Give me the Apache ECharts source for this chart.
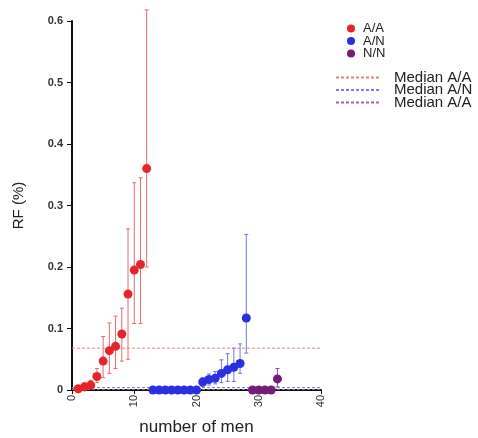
<!DOCTYPE html>
<html>
<head>
<meta charset="utf-8">
<script src="https://cdn.jsdelivr.net/npm/echarts@6/dist/echarts.min.js"></script>
<style>
  html, body { margin: 0; padding: 0; background: #fff; }
  #chart { width: 478px; height: 438px; }
</style>
</head>
<body>
<div id="chart"></div>
<script>
// A/A
const aaX = [1, 2, 3, 4, 5, 6, 7, 8, 9, 10, 11, 12]
const aaY = [0.002, 0.005, 0.008, 0.022, 0.047, 0.064, 0.071, 0.091, 0.156, 0.195, 0.204, 0.36]
const aaLow = [0, 0, 0.002, 0.012, 0.02, 0.027, 0.035, 0.047, 0.05, 0.108, 0.108, 0.2]
const aaHigh = [0.004, 0.012, 0.016, 0.035, 0.087, 0.109, 0.12, 0.133, 0.262, 0.337, 0.345, 0.618]
// A/N
const anX = [13, 14, 15, 16, 17, 18, 19, 20, 21, 22, 23, 24, 25, 26, 27, 28]
const anY = [0, 0, 0, 0, 0, 0, 0, 0, 0.013, 0.017, 0.019, 0.027, 0.033, 0.037, 0.043, 0.117]
const anLow = [0, 0, 0, 0, 0, 0, 0, 0, 0.006, 0.008, 0.01, 0.012, 0.014, 0.014, 0.027, 0.06]
const anHigh = [0, 0, 0, 0, 0, 0, 0, 0, 0.02, 0.026, 0.03, 0.049, 0.059, 0.068, 0.075, 0.253]
// N/N
const nnX = [29, 30, 31, 32, 33]
const nnY = [0, 0, 0, 0, 0.018]
const nnLow = [0, 0, 0, 0, 0.005]
const nnHigh = [0, 0, 0, 0, 0.035]
// medians
const medianAA = 0.068
const medianAN = 0.004
const medianNN = 0.001
const xRange = [0, 40]

const colors = { aa: '#e5252a', an: '#2b2fe0', nn: '#741c78' }
const barColors = { aa: '#e86a6a', an: '#6f78d8', nn: '#8d4f8f' }
const medColors = { aa: '#e88080', an: '#8080d8', nn: '#9a6a9c' }

const pts = (xs, ys) => xs.map((x, i) => [x, ys[i]])
const bars = (xs, lo, hi) => xs.map((x, i) => [x, lo[i], hi[i]])

const errorSeries = (data, color) => ({
  type: 'custom',
  clip: false,
  silent: true,
  z: 1,
  data,
  renderItem: (params, api) => {
    const lo = api.value(1), hi = api.value(2)
    if (hi - lo <= 0) return
    const a = api.coord([api.value(0), hi])
    const b = api.coord([api.value(0), lo])
    const st = { stroke: color, lineWidth: 1 }
    return {
      type: 'group',
      children: [
        { type: 'line', shape: { x1: a[0], y1: a[1], x2: b[0], y2: b[1] }, style: st },
        { type: 'line', shape: { x1: a[0] - 2, y1: a[1], x2: a[0] + 2, y2: a[1] }, style: st },
        { type: 'line', shape: { x1: b[0] - 2, y1: b[1], x2: b[0] + 2, y2: b[1] }, style: st },
      ],
    }
  },
})

const scatter = (name, data, color) => ({
  name, type: 'scatter', data, symbolSize: 9, z: 3,
  itemStyle: { color, opacity: 1 },
})

const median = (name, v, color) => ({
  name, type: 'line', data: xRange.map(x => [x, v]), symbol: 'none', z: 2,
  itemStyle: { color },
  lineStyle: { color, width: 1, type: [3, 2] }, silent: true,
})

const chart = echarts.init(document.getElementById('chart'))
chart.setOption({
  backgroundColor: '#fff',
  animation: false,
  textStyle: { fontFamily: 'Liberation Sans, Arial, sans-serif' },
  grid: { left: 72, right: 157, top: 21, bottom: 48, outerBoundsMode: 'none' },
  legend: [
    {
      data: ['A/A', 'A/N', 'N/N'],
      orient: 'vertical', left: 342, top: 17, itemGap: -0.5,
      itemWidth: 14, itemHeight: 8, icon: 'circle',
      textStyle: { fontSize: 13, lineHeight: 13, color: '#222' },
    },
    {
      data: ['Median A/A', 'Median A/N', 'Median A/A '],
      orient: 'vertical', left: 330, top: 65, itemGap: -2.5,
      itemWidth: 43, itemHeight: 10,
      itemStyle: { opacity: 0 },
      textStyle: { fontSize: 15, lineHeight: 15, color: '#222', padding: [0, 0, 0, 10] },
    },
  ],
  xAxis: {
    type: 'value', min: 0, max: 40, interval: 10,
    name: 'number of men', nameLocation: 'middle', nameGap: 29, nameMoveOverlap: false,
    nameTextStyle: { fontSize: 17, color: '#222' },
    axisLine: { lineStyle: { color: '#111', width: 2 } },
    axisTick: { show: true, length: 4, lineStyle: { color: '#111' } },
    axisLabel: { rotate: 90, fontSize: 11, color: '#333', margin: 5 },
    splitLine: { show: false },
  },
  yAxis: {
    type: 'value', min: 0, max: 0.6, interval: 0.1,
    name: 'RF (%)', nameLocation: 'middle', nameGap: 46, nameMoveOverlap: false,
    nameTextStyle: { fontSize: 15, color: '#222' },
    axisLine: { show: true, lineStyle: { color: '#111', width: 2 } },
    axisTick: { show: true, length: 5, lineStyle: { color: '#111' } },
    axisLabel: { fontSize: 11, color: '#333', fontWeight: 'bold', margin: 9 },
    splitLine: { show: false },
  },
  series: [
    errorSeries(bars(aaX, aaLow, aaHigh), barColors.aa),
    errorSeries(bars(anX, anLow, anHigh), barColors.an),
    errorSeries(bars(nnX, nnLow, nnHigh), barColors.nn),
    scatter('A/A', pts(aaX, aaY), colors.aa),
    scatter('A/N', pts(anX, anY), colors.an),
    scatter('N/N', pts(nnX, nnY), colors.nn),
    median('Median A/A', medianAA, medColors.aa),
    median('Median A/N', medianAN, medColors.an),
    median('Median A/A ', medianNN, medColors.nn),
  ],
})
</script>
</body>
</html>
